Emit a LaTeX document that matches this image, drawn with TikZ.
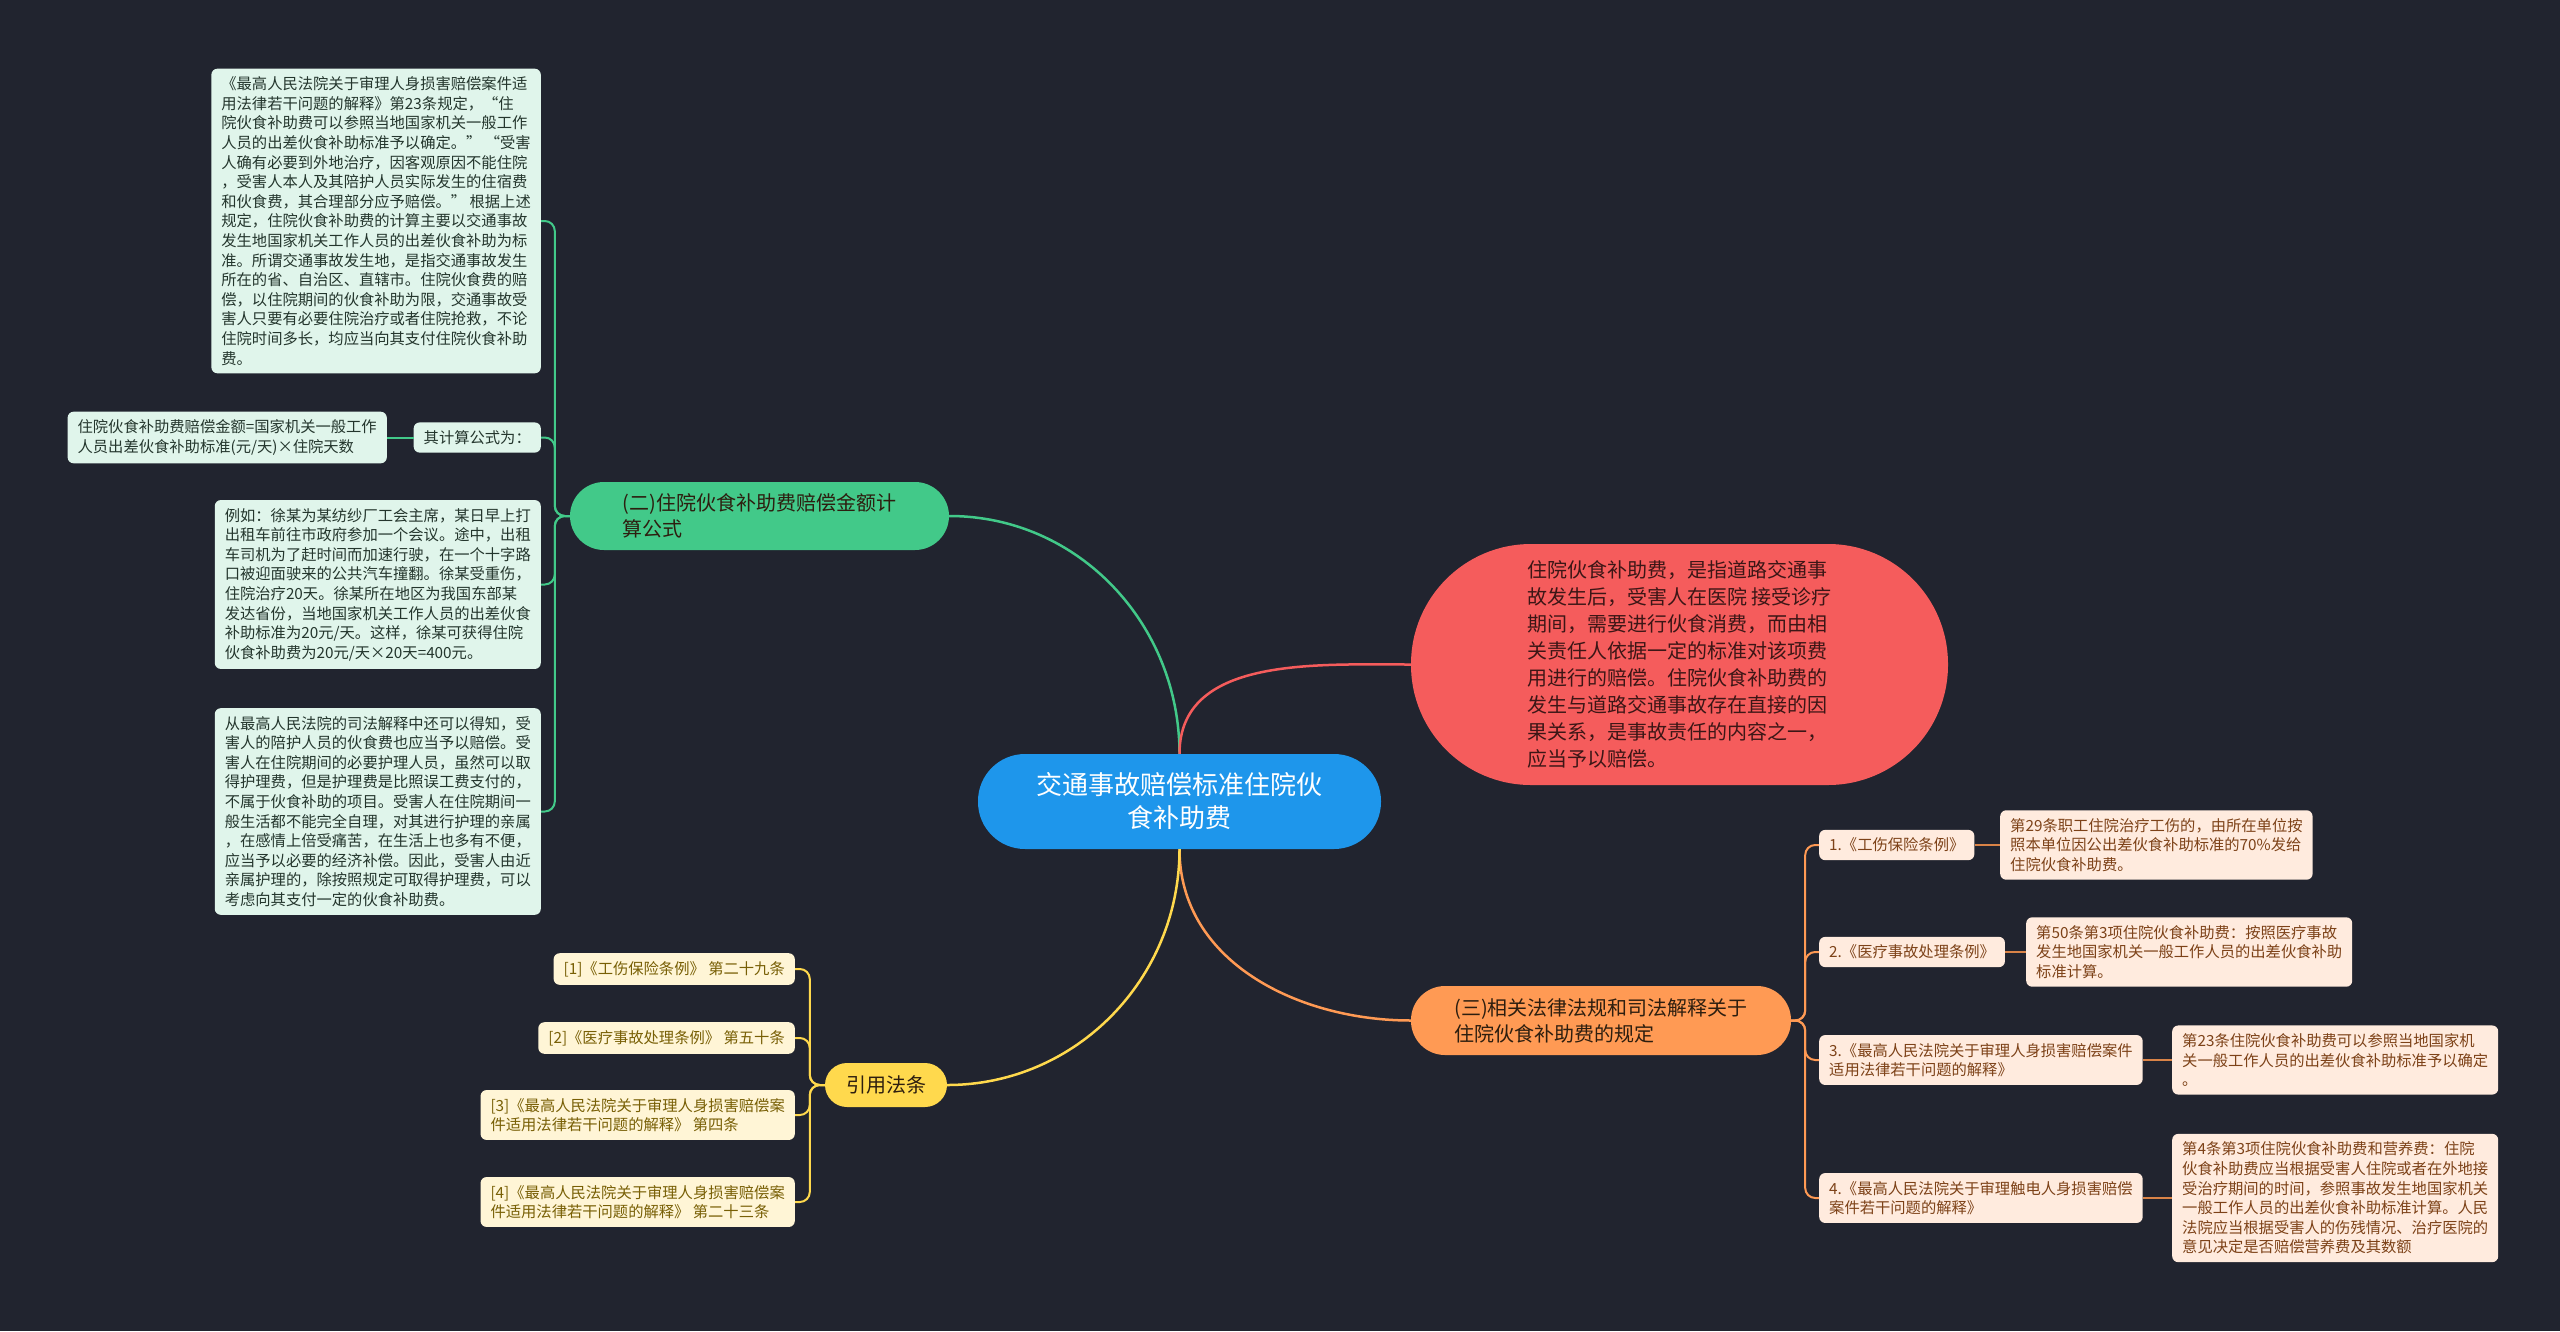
\documentclass[tikz,border=0pt]{standalone}
\usepackage{fontspec}
\setmainfont{Noto Sans CJK SC}
\definecolor{mmbg}{RGB}{33,36,47}
\definecolor{mmroot}{RGB}{30,150,235}
\definecolor{mmred}{RGB}{245,92,92}
\definecolor{mmgreen}{RGB}{66,201,137}
\definecolor{mmorange}{RGB}{255,154,84}
\definecolor{mmyellow}{RGB}{255,217,77}
\definecolor{lfgreen}{RGB}{224,245,235}
\definecolor{lforange}{RGB}{255,235,222}
\definecolor{lfyellow}{RGB}{255,245,214}
\definecolor{inkgreen}{RGB}{36,54,45}
\definecolor{inkred}{RGB}{60,22,22}
\definecolor{inkorange}{RGB}{125,66,24}
\definecolor{inkyellow}{RGB}{120,95,5}
\definecolor{inkdark}{RGB}{45,30,15}

\begin{document}
\begin{tikzpicture}[x=1pt, y=1pt,
    hub/.style={align=left, inner sep=0pt, font=\fontsize{20}{26}\selectfont},
    leaf/.style={align=left, inner xsep=10pt, inner ysep=8pt, rounded corners=6pt,
                 font=\fontsize{15.3}{19.6}\selectfont},
    branch/.style={line width=2.5pt},
    twig/.style={line width=2pt, rounded corners=10pt}]

  \fill[mmbg] (0,0) rectangle (2560,-1331);
  \useasboundingbox (0,0) rectangle (2560,-1331);

  % centre and the four main topics
  \node[hub, fill=mmroot, text=white, align=center, font=\fontsize{26}{33}\selectfont,
        minimum width=403pt, minimum height=95pt, rounded corners=47pt] (root) at (1179.5,-801.5)
    {交通事故赔偿标准住院伙\\食补助费};
  \node[hub, fill=mmred, text=inkred, font=\fontsize{20}{27}\selectfont,
        minimum width=537pt, minimum height=241pt, rounded corners=120pt] (defn) at (1679.5,-664.5)
    {住院伙食补助费，是指道路交通事\\故发生后，受害人在医院 接受诊疗\\期间，需要进行伙食消费，而由相\\关责任人依据一定的标准对该项费\\用进行的赔偿。住院伙食补助费的\\发生与道路交通事故存在直接的因\\果关系，是事故责任的内容之一，\\应当予以赔偿。};
  \node[hub, fill=mmgreen, text=inkdark, minimum width=379pt, minimum height=68pt,
        rounded corners=34pt] (calc) at (759.5,-516)
    {(二)住院伙食补助费赔偿金额计\\算公式};
  \node[hub, fill=mmorange, text=inkdark, minimum width=380pt, minimum height=69pt,
        rounded corners=34pt] (law) at (1601,-1020.5)
    {(三)相关法律法规和司法解释关于\\住院伙食补助费的规定};
  \node[hub, fill=mmyellow, text=inkdark, minimum width=122pt, minimum height=44pt,
        rounded corners=22pt] (cite) at (886,-1085) {引用法条};

  \draw[branch, mmgreen]  (root.north) to[out=90,in=0]    (calc.east);
  \draw[branch, mmred]    (root.north) to[out=90,in=180]  (defn.west);
  \draw[branch, mmorange] (root.south) to[out=-90,in=180] (law.west);
  \draw[branch, mmyellow] (root.south) to[out=-90,in=0]   (cite.east);

  % left: formula branch
  \node[leaf, fill=lfgreen, text=inkgreen, anchor=east] (rule) at (541,-221)
    {《最高人民法院关于审理人身损害赔偿案件适\\用法律若干问题的解释》第23条规定，“住\\院伙食补助费可以参照当地国家机关一般工作\\人员的出差伙食补助标准予以确定。” “受害\\人确有必要到外地治疗，因客观原因不能住院\\，受害人本人及其陪护人员实际发生的住宿费\\和伙食费，其合理部分应予赔偿。” 根据上述\\规定，住院伙食补助费的计算主要以交通事故\\发生地国家机关工作人员的出差伙食补助为标\\准。所谓交通事故发生地，是指交通事故发生\\所在的省、自治区、直辖市。住院伙食费的赔\\偿，以住院期间的伙食补助为限，交通事故受\\害人只要有必要住院治疗或者住院抢救，不论\\住院时间多长，均应当向其支付住院伙食补助\\费。};
  \node[leaf, fill=lfgreen, text=inkgreen, anchor=east] (fhead) at (541,-437.5) {其计算公式为：};
  \node[leaf, fill=lfgreen, text=inkgreen, anchor=east] (formula) at (387,-437.5)
    {住院伙食补助费赔偿金额=国家机关一般工作\\人员出差伙食补助标准(元/天)×住院天数};
  \node[leaf, fill=lfgreen, text=inkgreen, anchor=east] (example) at (541,-584.5)
    {例如：徐某为某纺纱厂工会主席，某日早上打\\出租车前往市政府参加一个会议。途中，出租\\车司机为了赶时间而加速行驶，在一个十字路\\口被迎面驶来的公共汽车撞翻。徐某受重伤，\\住院治疗20天。徐某所在地区为我国东部某\\发达省份，当地国家机关工作人员的出差伙食\\补助标准为20元/天。这样，徐某可获得住院\\伙食补助费为20元/天×20天=400元。};
  \node[leaf, fill=lfgreen, text=inkgreen, anchor=east] (escort) at (541,-811.5)
    {从最高人民法院的司法解释中还可以得知，受\\害人的陪护人员的伙食费也应当予以赔偿。受\\害人在住院期间的必要护理人员，虽然可以取\\得护理费，但是护理费是比照误工费支付的，\\不属于伙食补助的项目。受害人在住院期间一\\般生活都不能完全自理，对其进行护理的亲属\\，在感情上倍受痛苦，在生活上也多有不便，\\应当予以必要的经济补偿。因此，受害人由近\\亲属护理的，除按照规定可取得护理费，可以\\考虑向其支付一定的伙食补助费。};

  \draw[twig, mmgreen] (calc.west) -- ++(-15,0) |- (rule.east);
  \draw[twig, mmgreen] (calc.west) -- ++(-15,0) |- (fhead.east);
  \draw[twig, mmgreen] (calc.west) -- ++(-15,0) |- (example.east);
  \draw[twig, mmgreen] (calc.west) -- ++(-15,0) |- (escort.east);
  \draw[twig, mmgreen] (fhead.west) -- (formula.east);

  % left: cited articles
  \node[leaf, fill=lfyellow, text=inkyellow, anchor=east] (c1) at (795,-969) {[1]《工伤保险条例》 第二十九条};
  \node[leaf, fill=lfyellow, text=inkyellow, anchor=east] (c2) at (795,-1038) {[2]《医疗事故处理条例》 第五十条};
  \node[leaf, fill=lfyellow, text=inkyellow, anchor=east] (c3) at (795,-1115)
    {[3]《最高人民法院关于审理人身损害赔偿案\\件适用法律若干问题的解释》 第四条};
  \node[leaf, fill=lfyellow, text=inkyellow, anchor=east] (c4) at (795,-1202)
    {[4]《最高人民法院关于审理人身损害赔偿案\\件适用法律若干问题的解释》 第二十三条};

  \foreach \c in {c1,c2,c3,c4}
    \draw[twig, mmyellow] (cite.west) -- ++(-15,0) |- (\c.east);

  % right: statutes and what they say
  \node[leaf, fill=lforange, text=inkorange, anchor=west] (r1) at (1819,-845) {1.《工伤保险条例》};
  \node[leaf, fill=lforange, text=inkorange, anchor=west] (r2) at (1819,-952) {2.《医疗事故处理条例》};
  \node[leaf, fill=lforange, text=inkorange, anchor=west] (r3) at (1819,-1060)
    {3.《最高人民法院关于审理人身损害赔偿案件\\适用法律若干问题的解释》};
  \node[leaf, fill=lforange, text=inkorange, anchor=west] (r4) at (1819,-1198)
    {4.《最高人民法院关于审理触电人身损害赔偿\\案件若干问题的解释》};

  \node[leaf, fill=lforange, text=inkorange, anchor=west] (d1) at (2000,-845)
    {第29条职工住院治疗工伤的，由所在单位按\\照本单位因公出差伙食补助标准的70\%发给\\住院伙食补助费。};
  \node[leaf, fill=lforange, text=inkorange, anchor=west] (d2) at (2026,-952)
    {第50条第3项住院伙食补助费：按照医疗事故\\发生地国家机关一般工作人员的出差伙食补助\\标准计算。};
  \node[leaf, fill=lforange, text=inkorange, anchor=west] (d3) at (2172,-1060)
    {第23条住院伙食补助费可以参照当地国家机\\关一般工作人员的出差伙食补助标准予以确定\\。};
  \node[leaf, fill=lforange, text=inkorange, anchor=west] (d4) at (2172,-1198)
    {第4条第3项住院伙食补助费和营养费：住院\\伙食补助费应当根据受害人住院或者在外地接\\受治疗期间的时间，参照事故发生地国家机关\\一般工作人员的出差伙食补助标准计算。人民\\法院应当根据受害人的伤残情况、治疗医院的\\意见决定是否赔偿营养费及其数额};

  \foreach \r in {r1,r2,r3,r4}
    \draw[twig, mmorange] (law.east) -- ++(14,0) |- (\r.west);
  \foreach \r/\d in {r1/d1,r2/d2,r3/d3,r4/d4}
    \draw[branch, mmorange!85!black] (\r.east) -- (\d.west);
\end{tikzpicture}
\end{document}
